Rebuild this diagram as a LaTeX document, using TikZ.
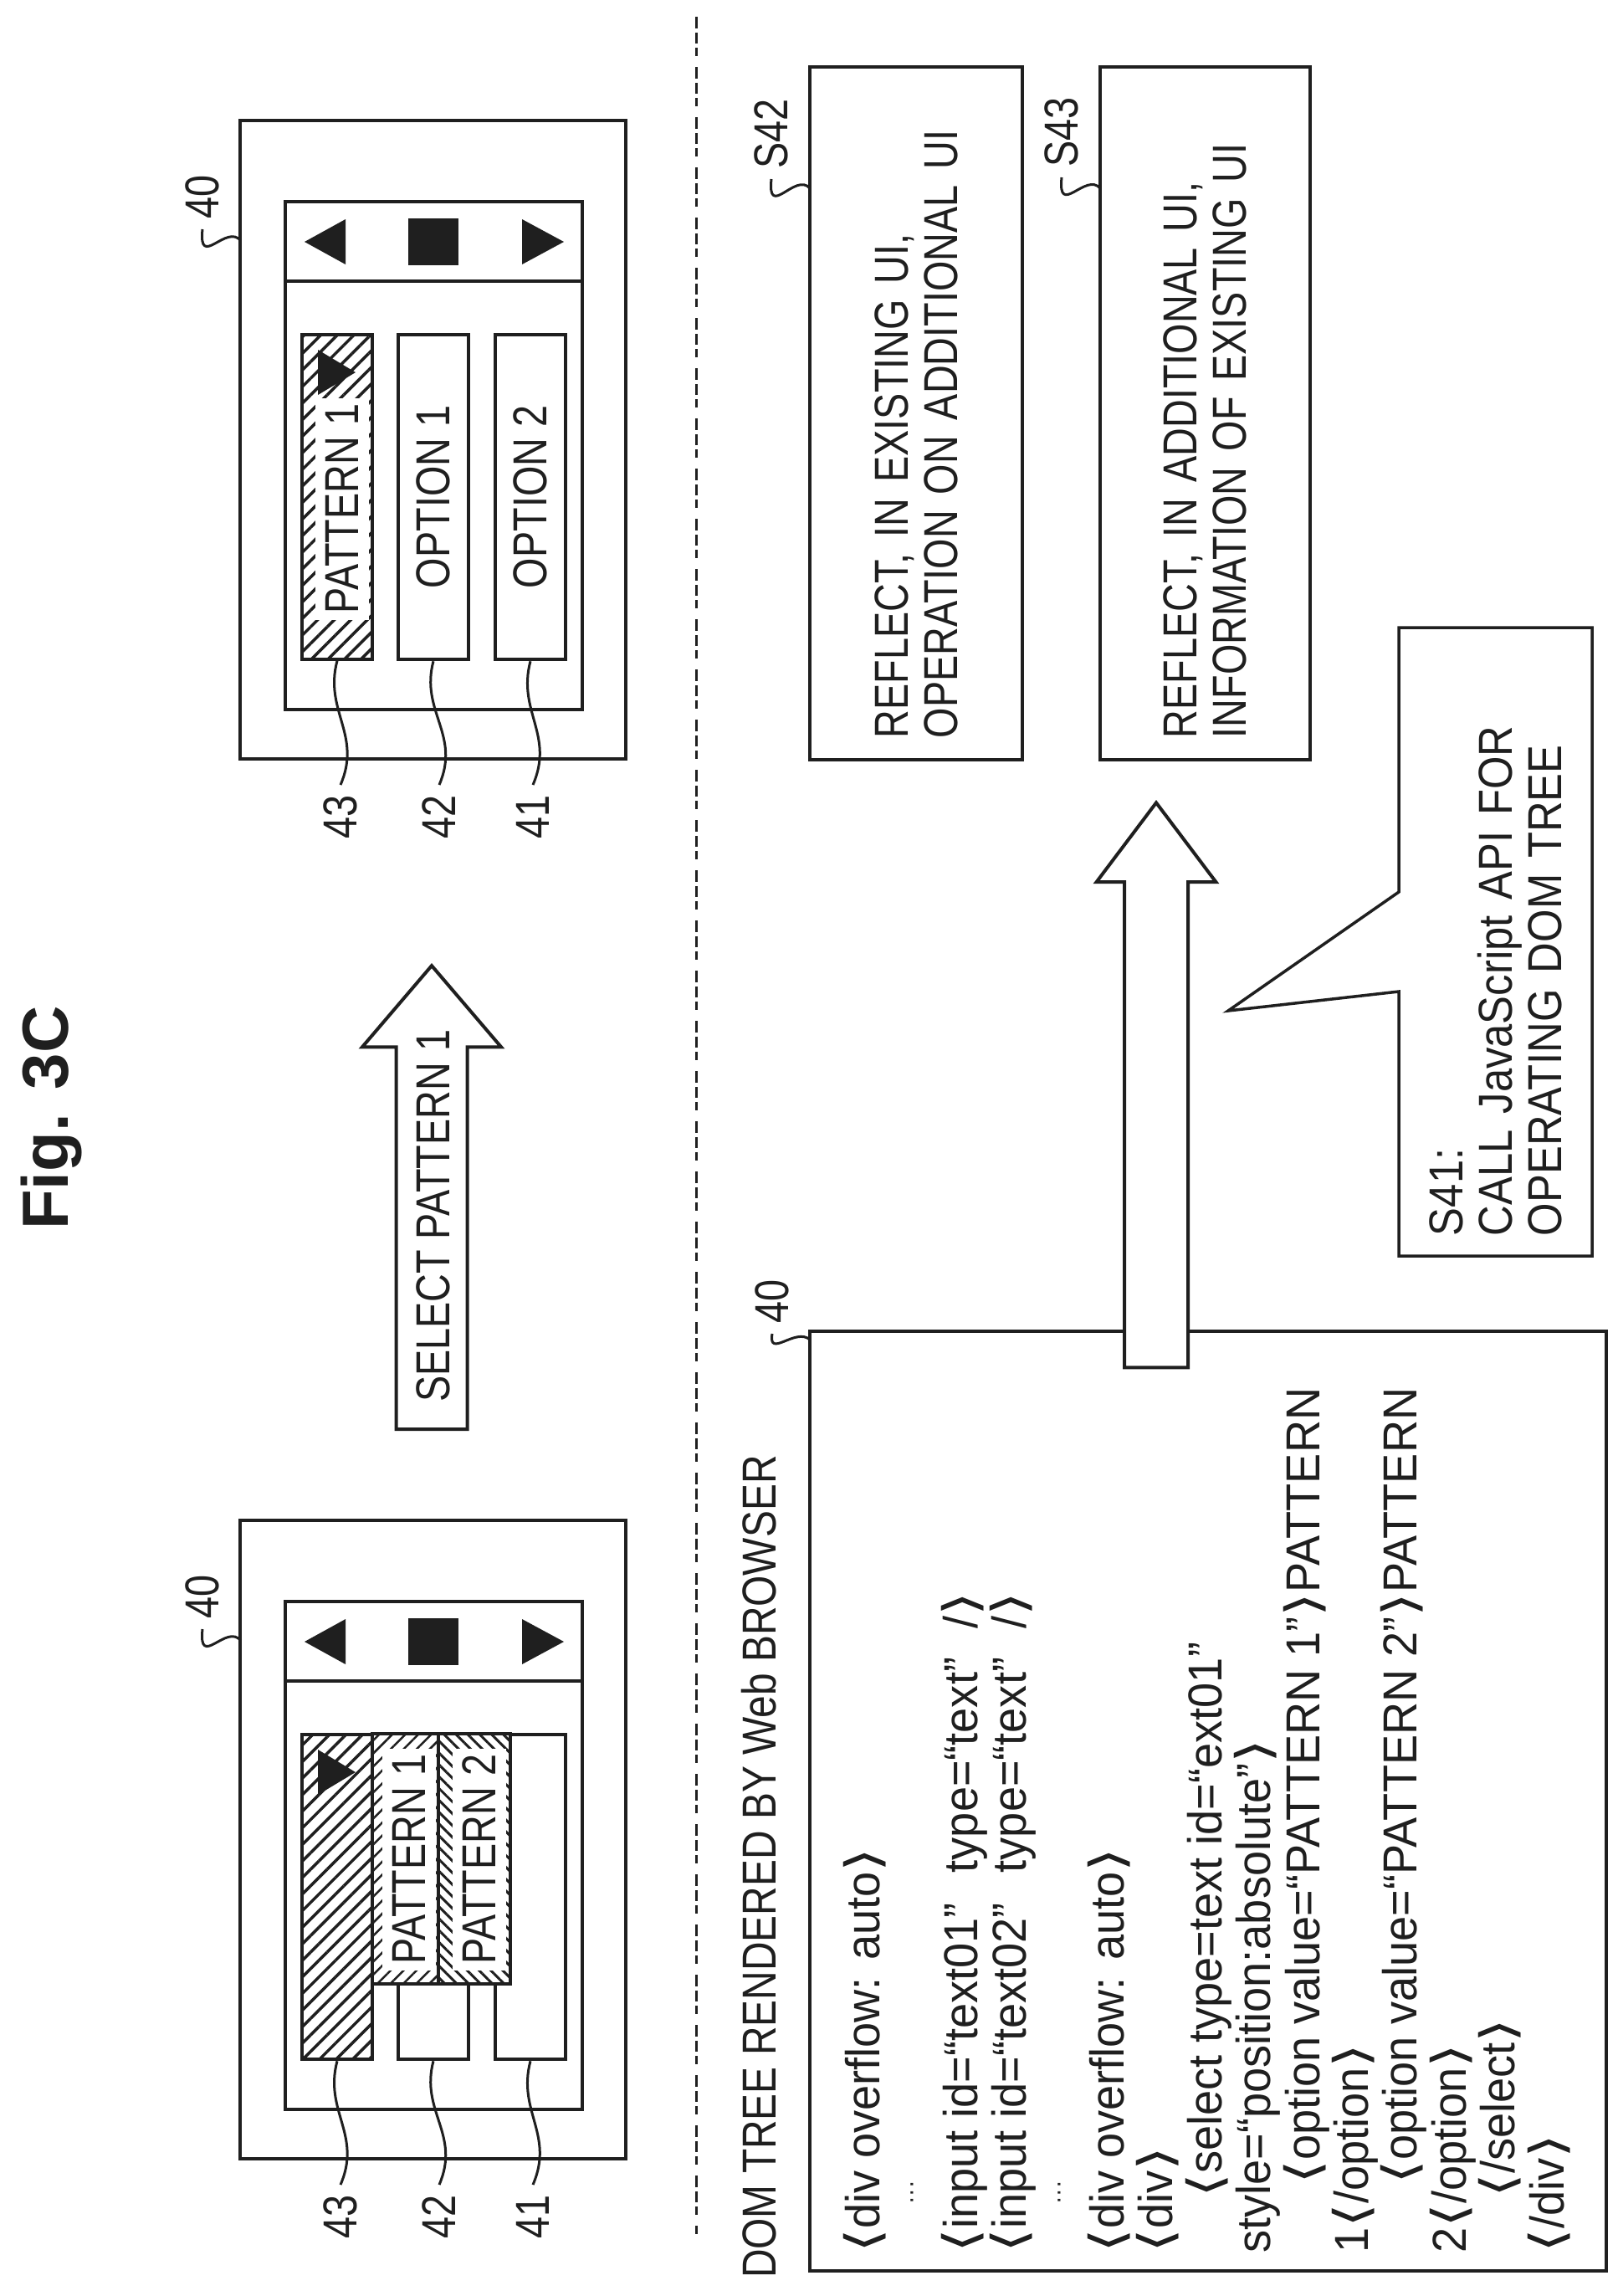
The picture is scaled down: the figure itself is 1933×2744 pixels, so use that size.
\documentclass[tikz,border=0pt]{standalone}
\usepackage{fontspec}
\setmainfont{Liberation Sans}[FakeStretch=0.82]
\newfontfamily\figfont{Liberation Sans}
\newfontfamily\codefont{Liberation Sans}[FakeStretch=0.95]
\newfontfamily\noteFont{Liberation Sans}[FakeStretch=0.89]
\newfontfamily\titleFont{Liberation Sans}[FakeStretch=0.84]
\newfontfamily\brkfont{DejaVu Sans}[FakeStretch=1.3]
\usetikzlibrary{positioning,shapes.arrows,patterns.meta}
\definecolor{ink}{gray}{0.12}
\lineskiplimit=-100pt
\newcommand{\opn}{{\brkfont ⟨}}
\newcommand{\cls}{{\brkfont ⟩}}
\newcommand{\dotrow}{\raisebox{11pt}{\fontsize{30}{30}\selectfont ···}}
\tikzset{
    txt/.style={text=ink,font=\fontsize{57}{59}\selectfont,inner sep=0pt},
    boxline/.style={txt,draw=ink,line width=4.5pt,fill=white},
    thin box/.style={txt,draw=ink,line width=3.5pt,fill=white},
    numlabel/.style={txt,rotate=90,inner xsep=12pt},
    leadline/.style={draw=ink,line width=3pt},
    blockarrow/.style={single arrow,draw=ink,line width=4pt,fill=white,inner xsep=0pt,rotate=90,anchor=tip},
    hatchdark/.style={pattern={Lines[angle=45,distance=14pt,line width=3.5pt]},pattern color=ink},
    hatchone/.style={preaction={fill=white},pattern={Lines[angle=45,distance=11pt,line width=2.5pt]},pattern color=ink},
    hatchtwo/.style={preaction={fill=white},pattern={Lines[angle=-45,distance=10pt,line width=3pt]},pattern color=ink},
    whitetext/.style={txt,rotate=90,fill=white,minimum width=265pt,minimum height=64pt}
}
\begin{document}
\begin{tikzpicture}[x=1pt,y=-1pt]
    \useasboundingbox (0,0) rectangle (1933,2744);
    \node[rotate=90,anchor=base west,inner sep=0pt,text=ink,font=\figfont\bfseries\fontsize{78}{80}\selectfont] (figtitle) at (81,1470) {Fig. 3C};
    \foreach \sf/\dy/\optone/\opttwo in {a/0/OPTION 1/OPTION 2,b/1673//} {
        \node[boxline,minimum width=461pt,minimum height=763pt] (frame\sf) at (517.5,525.5+\dy) {};
        \node[boxline,minimum width=355pt,minimum height=607pt] (inner\sf) at (518.5,544.5+\dy) {};
        \node[boxline,minimum width=355pt,minimum height=95pt] (bar\sf) at (518.5,288.5+\dy) {};
        \fill[ink] (364,289+\dy) -- (413,262+\dy) -- (413,316+\dy) -- cycle;
        \node[fill=ink,minimum width=60pt,minimum height=56pt,inner sep=0pt] (stop\sf) at (518,289+\dy) {};
        \fill[ink] (674,289+\dy) -- (624,262+\dy) -- (624,316+\dy) -- cycle;
        \node[boxline,rotate=90,minimum width=388pt,minimum height=84pt,hatchdark] (b43\sf) at (403,594+\dy) {};
        \node[boxline,rotate=90,minimum width=388pt,minimum height=84pt] (b42\sf) at (518,594+\dy) {\optone};
        \node[boxline,rotate=90,minimum width=388pt,minimum height=84pt] (b41\sf) at (634,594+\dy) {\opttwo};
        \fill[ink] (380,418+\dy) -- (380,472+\dy) -- (425,445+\dy) -- cycle;
        \foreach \nm/\lx in {43/407,42/525,41/637} {
            \node[numlabel,anchor=east] (l\nm\sf) at (\lx,938+\dy) {\nm};
            \draw[leadline] (b\nm\sf.west) .. controls +(-16,60) and +(26,-60) .. (l\nm\sf.east);
        }
        \node[numlabel,anchor=west] (l40\sf) at (242,274+\dy) {40};
        \coordinate (t40\sf) at (288,288+\dy);
        \draw[leadline] (l40\sf.west) .. controls +(-5,49) and +(-17,-22) .. (t40\sf);
    }
    \node[whitetext] (pat0) at (409,608) {PATTERN 1};
    \node[boxline,rotate=90,minimum width=299pt,minimum height=79pt,hatchone] (row1) at (484.5,2221.5) {};
    \node[boxline,rotate=90,minimum width=299pt,minimum height=86pt,hatchtwo] (row2) at (567,2221.5) {};
    \node[whitetext] (pat1) at (489,2222) {PATTERN 1};
    \node[whitetext] (pat2) at (573,2222) {PATTERN 2};
    \node[blockarrow,inner ysep=40.5pt,minimum width=162pt,minimum height=554pt,single arrow head extend=40.5pt,single arrow tip angle=81] (selarrow) at (516,1151) {};
    \node[txt,rotate=90,anchor=base west] (seltext) at (537,1676) {SELECT PATTERN 1};
    \coordinate (septop) at (832,20);
    \coordinate (sepend) at (832,2670);
    \draw[draw=ink,line width=3pt,dash pattern=on 14pt off 5pt on 13pt off 5pt on 10pt off 13pt] (septop) -- (sepend);
    \node[txt,rotate=90,anchor=base west,font=\titleFont\fontsize{57}{59}\selectfont] (domtitle) at (927,2723) {DOM TREE RENDERED BY Web BROWSER};
    \node[thin box,minimum width=952pt,minimum height=1123pt] (dom) at (1444,2152.5) {};
    \node[numlabel,anchor=west] (l40c) at (923,1594) {40};
    \coordinate (t40c) at (968,1601);
    \draw[leadline] (l40c.west) .. controls +(-5,30) and +(-17,-15) .. (t40c);
    \node[txt,rotate=90,anchor=north west,align=left,font=\codefont\fontsize{57}{58.4}\selectfont] (code) at (1008,2693) {%
        \opn div overflow: auto\cls\\
        \hspace*{58pt}\dotrow\\
        \opn input id=“text01”\hspace{36pt}type=“text”\hspace{34pt}/\cls\\
        \opn input id=“text02”\hspace{36pt}type=“text”\hspace{34pt}/\cls\\
        \hspace*{58pt}\dotrow\\
        \opn div overflow: auto\cls\\
        \opn div\cls\\
        \hspace*{66pt}\opn select type=text id=“ext01”\\
        style=“position:absolute”\cls\\
        \hspace*{82pt}\opn option value=“PATTERN 1”\cls PATTERN\\
        1\opn/option\cls\\
        \hspace*{82pt}\opn option value=“PATTERN 2”\cls PATTERN\\
        2\opn/option\cls\\
        \hspace*{66pt}\opn/select\cls\\
        \opn/div\cls};
    \node[blockarrow,inner ysep=36pt,minimum width=139pt,minimum height=675pt,single arrow head extend=33.5pt,single arrow tip angle=74] (bigarrow) at (1382,956) {};
    \node[thin box,rotate=90,minimum width=828pt,minimum height=254pt,text width=776pt,inner xsep=26pt,align=left] (s42) at (1095,494) {REFLECT, IN EXISTING UI,\\OPERATION ON ADDITIONAL UI};
    \node[thin box,rotate=90,minimum width=828pt,minimum height=251pt,text width=776pt,inner xsep=26pt,align=left] (s43) at (1440.5,494) {REFLECT, IN ADDITIONAL UI,\\INFORMATION OF EXISTING UI};
    \node[numlabel,anchor=west] (ls42) at (922,214) {S42};
    \node[numlabel,anchor=west] (ls43) at (1269,212) {S43};
    \coordinate (t42) at (968,225);
    \coordinate (t43) at (1315,225);
    \draw[leadline] (ls42.west) .. controls +(-5,49) and +(-17,-20) .. (t42);
    \draw[leadline] (ls43.west) .. controls +(-5,49) and +(-17,-20) .. (t43);
    \draw[draw=ink,line width=3.5pt,fill=white,line join=miter] (1672,750) -- (1672,1066) -- (1468,1208) -- (1672,1185) -- (1672,1501) -- (1903,1501) -- (1903,750) -- cycle;
    \node[txt,rotate=90,text width=703pt,align=left,font=\noteFont\fontsize{57}{59}\selectfont] (s41) at (1787.5,1125.5) {S41:\\CALL JavaScript API FOR\\OPERATING DOM TREE};
\end{tikzpicture}
\end{document}
